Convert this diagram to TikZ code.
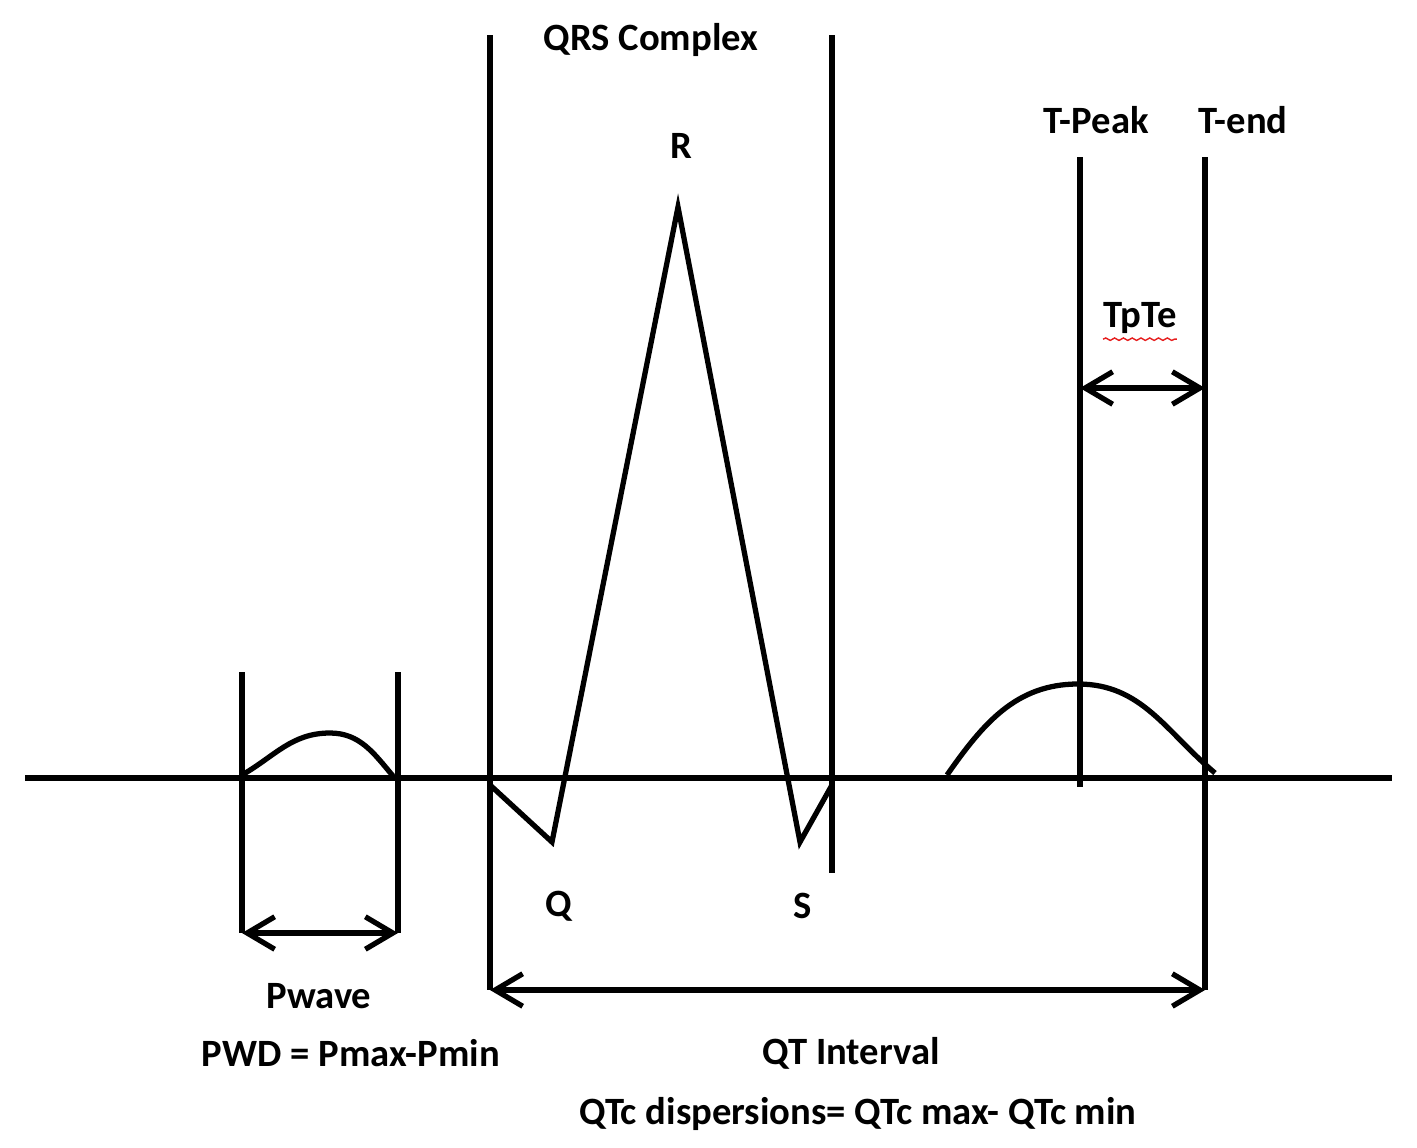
\documentclass[tikz,border=0pt]{standalone}
\usepackage{fontspec}
\setmainfont{Carlito}
\definecolor{SpellRed}{RGB}{230,30,30}
\usetikzlibrary{arrows.meta, decorations.pathmorphing}

\tikzset{
  trace/.style={line width=3pt, line join=miter},
  marker/.style={line width=3pt},
  span/.style={line width=3pt, {Straight Barb[length=5.5mm,width=6.5mm]}-{Straight Barb[length=5.5mm,width=6.5mm]}},
  lbl/.style={font=\fontsize{22}{26}\selectfont\bfseries, inner sep=0pt}
}

\begin{document}
\begin{tikzpicture}[x=0.02cm, y=-0.02cm]
\useasboundingbox (0,0) rectangle (1417,1147);

% Baseline
\draw[marker] (25,778) -- (1392,778);

% Marker lines
\coordinate (pL) at (242,933); \coordinate (pLtop) at (242,672);
\coordinate (pR) at (398,933); \coordinate (pRtop) at (398,672);
\coordinate (qrsL) at (490,990); \coordinate (qrsLtop) at (490,35);
\coordinate (qrsR) at (832,873); \coordinate (qrsRtop) at (832,35);
\coordinate (tpk) at (1080,787); \coordinate (tpktop) at (1080,157);
\coordinate (tend) at (1205,990); \coordinate (tendtop) at (1205,157);
\draw[marker] (pLtop) -- (pL);
\draw[marker] (pRtop) -- (pR);
\draw[marker] (qrsLtop) -- (qrsL);
\draw[marker] (qrsRtop) -- (qrsR);
\draw[marker] (tpktop) -- (tpk);
\draw[marker] (tendtop) -- (tend);

% Waves
\draw[trace] (242,775) to[out=30,in=180] (330,733) to[out=0,in=130] (393,776);
\draw[trace] (490,785) -- (552,842) -- (678,207) -- (800,842) -- (832,785);
\draw[trace] (947,775) to[out=55,in=180] (1078,684) to[out=0,in=140] (1215,773);

% Spans
\coordinate (tpteL) at (1080,388); \coordinate (tpteR) at (1205,388);
\draw[span] (pL) -- (pR);
\draw[span] (tpteL) -- (tpteR);
\draw[span] (qrsL) -- (tend);

% Labels
\node[lbl] (qrs) at (651,40) {QRS Complex};
\node[lbl] (r) at (681,146) {R};
\node[lbl] (tpeak) at (1096,120) {T-Peak};
\node[lbl] (tendlbl) at (1243,120) {T-end};
\node[lbl] (tpte) at (1140,318) {TpTe};
\draw[SpellRed, line width=0.8pt, decorate, decoration={snake, segment length=5pt, amplitude=0.7pt}]
  ([yshift=-3pt]tpte.south west) -- ([yshift=-3pt]tpte.south east);
\node[lbl] (q) at (559,906) {Q};
\node[lbl] (s) at (803,906) {S};
\node[lbl] (pwave) at (319,996) {Pwave};
\node[lbl] (pwd) at (351,1053) {PWD = Pmax-Pmin};
\node[lbl] (qt) at (851,1053) {QT Interval};
\node[lbl] (qtc) at (858,1114) {QTc dispersions= QTc max- QTc min};
\end{tikzpicture}
\end{document}
